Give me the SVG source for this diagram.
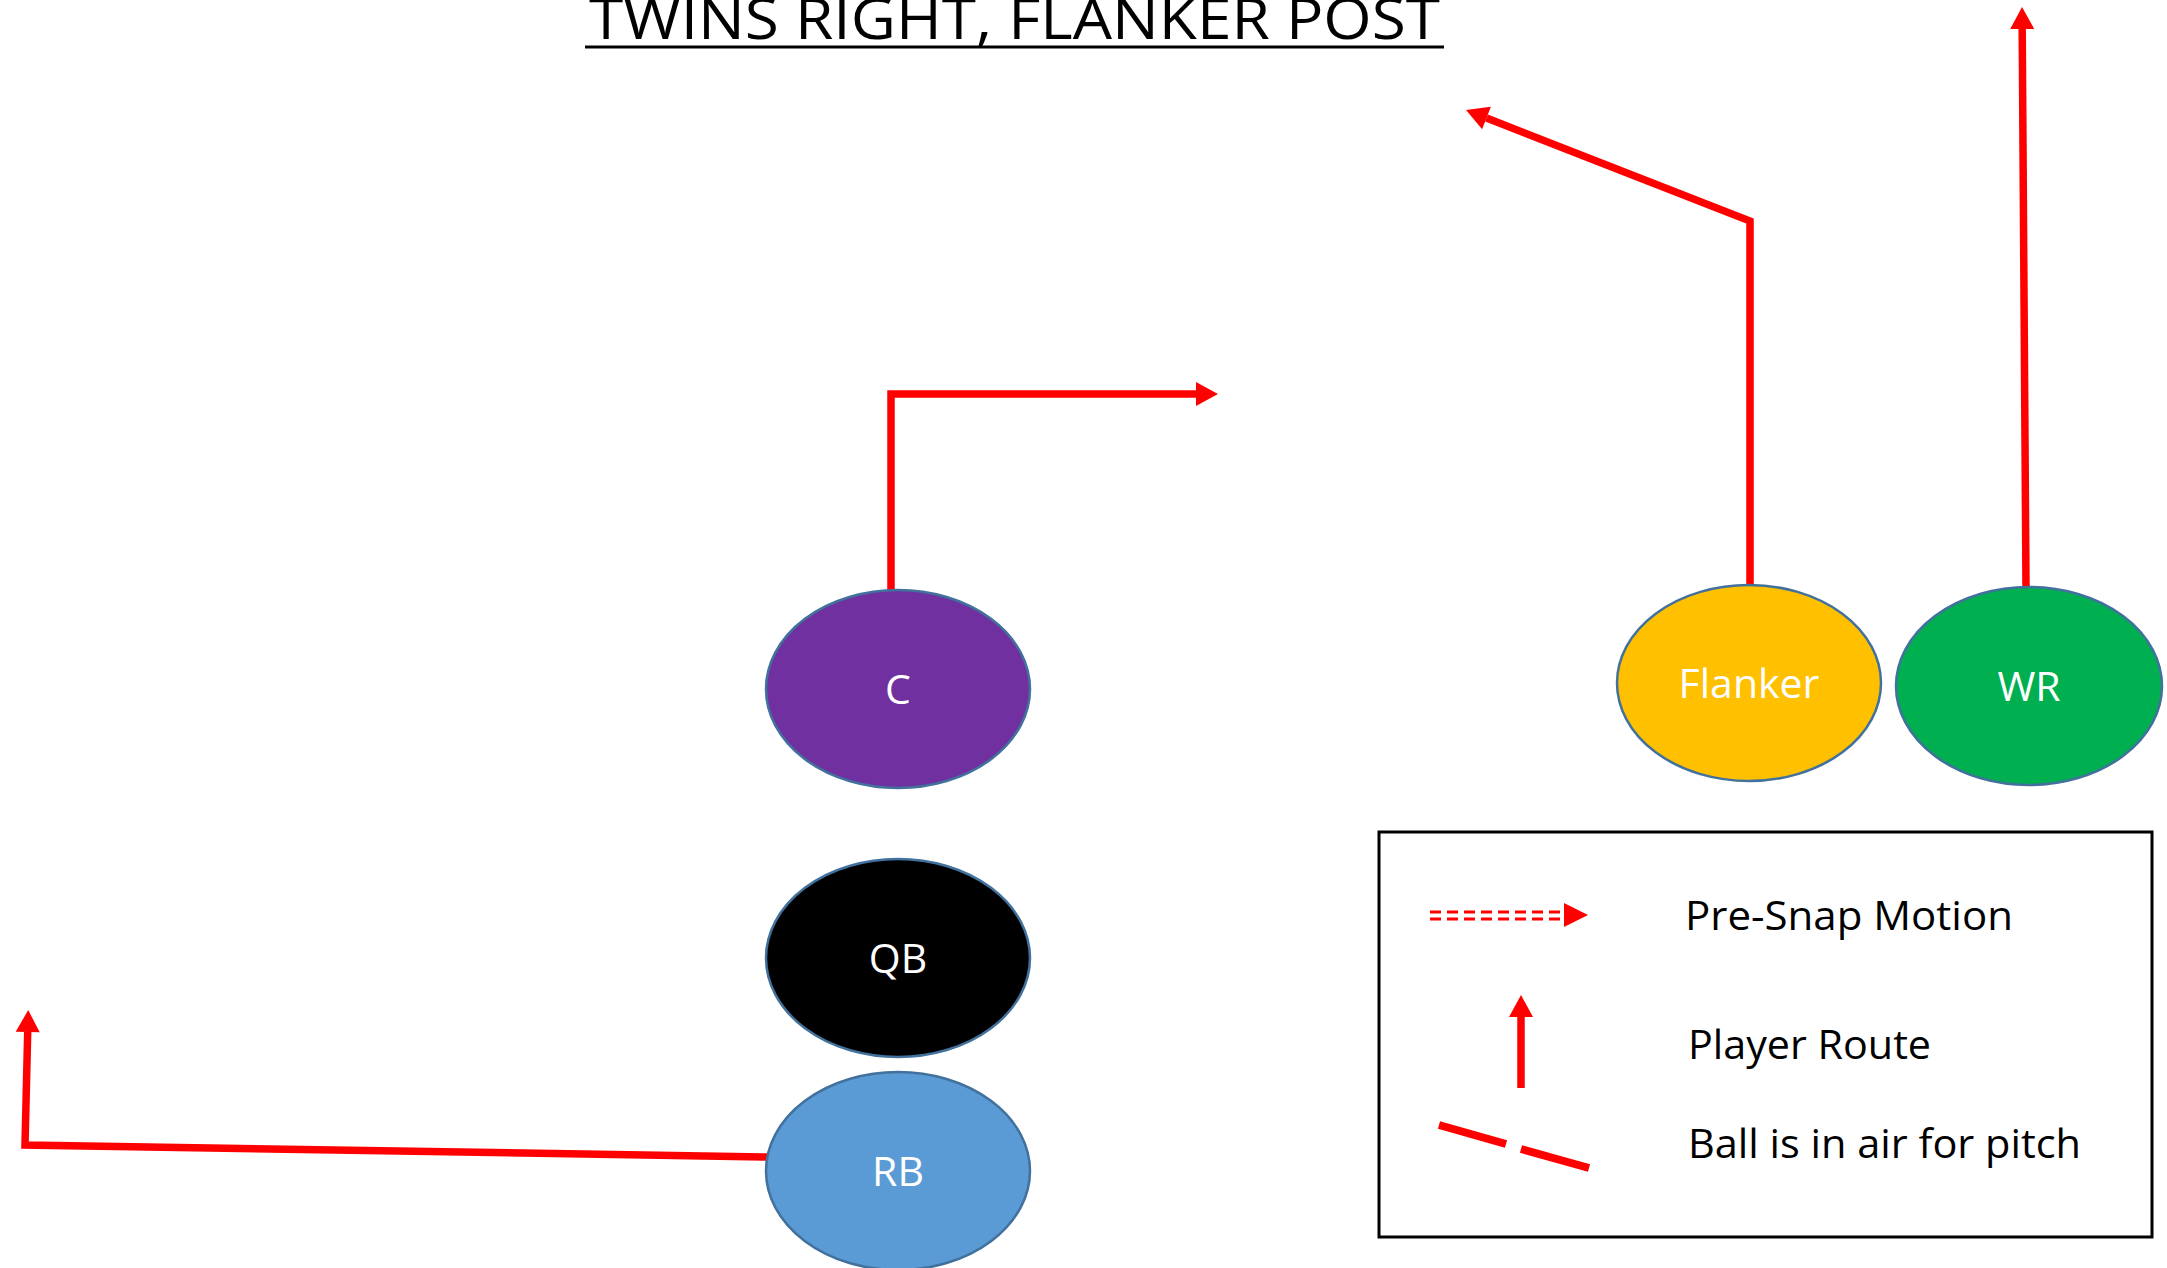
<svg xmlns="http://www.w3.org/2000/svg" width="2167" height="1268" viewBox="0 0 2167 1268">
  <style>
    .node { stroke: #41719C; stroke-width: 2.5; }
    .lbl { font-family: "Open Sans", "Liberation Sans", sans-serif; font-size: 41px; fill: #FFFFFF; text-anchor: middle; }
    .route { fill: none; stroke: #FF0000; stroke-width: 7.5; stroke-linejoin: miter; }
    .legtext { font-family: "Open Sans", "Liberation Sans", sans-serif; font-size: 40px; fill: #000000; }
    .title { font-family: "Open Sans", "Liberation Sans", sans-serif; font-size: 56px; fill: #000000; }
  </style>
  <defs>
    <marker id="arrow" markerUnits="userSpaceOnUse" markerWidth="24" markerHeight="26" refX="0" refY="12" orient="auto" overflow="visible">
      <path d="M0,0 L22,12 L0,24 z" fill="#FF0000"/>
    </marker>
  </defs>
  <rect x="0" y="0" width="2167" height="1268" fill="#FFFFFF"/>

  <g id="title">
    <text class="title" x="589" y="39" textLength="851" lengthAdjust="spacingAndGlyphs">TWINS RIGHT, FLANKER POST</text>
    <line x1="585" y1="47" x2="1444" y2="47" stroke="#000000" stroke-width="3"/>
  </g>

  <g id="connectors">
    <path class="route" d="M891,590 V394 H1196" marker-end="url(#arrow)"/>
    <path class="route" d="M1750,585 V221 L1486.5,118" marker-end="url(#arrow)"/>
    <path class="route" d="M2026,587 L2022.2,29" marker-end="url(#arrow)"/>
    <path class="route" d="M767,1157 L25,1145 L27.7,1032" marker-end="url(#arrow)"/>
  </g>

  <g id="node-c">
    <ellipse class="node" cx="898" cy="689" rx="132" ry="99" fill="#7030A0"/>
    <text class="lbl" x="898" y="704">C</text>
  </g>
  <g id="node-qb">
    <ellipse class="node" cx="898" cy="958" rx="132" ry="99" fill="#000000"/>
    <text class="lbl" x="898" y="973">QB</text>
  </g>
  <g id="node-rb">
    <ellipse class="node" cx="898" cy="1171" rx="132" ry="99" fill="#5B9BD5"/>
    <text class="lbl" x="898" y="1186">RB</text>
  </g>
  <g id="node-flanker">
    <ellipse class="node" cx="1749" cy="683" rx="132" ry="98" fill="#FFC000"/>
    <text class="lbl" x="1749" y="698">Flanker</text>
  </g>
  <g id="node-wr">
    <ellipse class="node" cx="2029" cy="686" rx="133" ry="99" fill="#00B050"/>
    <text class="lbl" x="2029" y="701">WR</text>
  </g>

  <g id="legend">
    <rect x="1379" y="832" width="773" height="405" fill="none" stroke="#000000" stroke-width="3"/>
    <line x1="1430" y1="912" x2="1564" y2="912" stroke="#FF0000" stroke-width="3" stroke-dasharray="11 6"/>
    <line x1="1430" y1="919" x2="1564" y2="919" stroke="#FF0000" stroke-width="3" stroke-dasharray="11 6"/>
    <path d="M1564,903 L1588,915 L1564,927 z" fill="#FF0000"/>
    <text class="legtext" x="1685" y="930" textLength="328" lengthAdjust="spacingAndGlyphs">Pre-Snap Motion</text>
    <path class="route" d="M1521,1088 L1521,1017" marker-end="url(#arrow)"/>
    <text class="legtext" x="1688" y="1059" textLength="243" lengthAdjust="spacingAndGlyphs">Player Route</text>
    <line x1="1439" y1="1125" x2="1506" y2="1144" stroke="#FF0000" stroke-width="8"/>
    <line x1="1521" y1="1149" x2="1589" y2="1168" stroke="#FF0000" stroke-width="8"/>
    <text class="legtext" x="1688" y="1158" textLength="393" lengthAdjust="spacingAndGlyphs">Ball is in air for pitch</text>
  </g>
</svg>
